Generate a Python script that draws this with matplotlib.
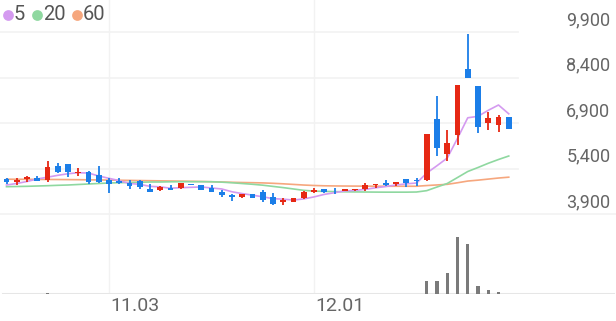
import matplotlib
matplotlib.use("Agg")
import matplotlib.pyplot as plt
import numpy as np
import pandas as pd

# ---------------- data ----------------
opens = [5050, 4955, 5044, 5097, 5021, 5483, 5539, 5242, 5295, 5186,
         5021, 4978, 4912, 4998, 4724, 4691, 4757, 4757, 4885, 4856,
         4767, 4615, 4526, 4451, 4550, 4615, 4470, 4286, 4306, 4428,
         4635, 4714, 4668, 4668, 4675, 4714, 4846, 4932, 4889, 5044,
         5021, 5021, 7022, 5878, 6505, 8671, 8130, 6890, 6834, 7108]
highs = [5080, 5087, 5150, 5150, 5657, 5591, 5550, 5426, 5318, 5483,
         5077, 5097, 5021, 5021, 4889, 4823, 4856, 4922, 4900, 4870,
         4856, 4691, 4543, 4575, 4559, 4691, 4592, 4428, 4440, 4658,
         4757, 4720, 4757, 4730, 4720, 4922, 4889, 5021, 4970, 5050,
         5087, 6538, 7790, 6669, 8153, 9835, 8130, 7273, 7164, 7108]
lows = [4900, 4840, 4970, 4990, 4965, 5242, 5110, 5163, 4889, 4932,
        4602, 4879, 4724, 4724, 4625, 4658, 4675, 4740, 4840, 4675,
        4625, 4460, 4329, 4428, 4428, 4296, 4197, 4197, 4290, 4411,
        4592, 4592, 4559, 4660, 4668, 4658, 4757, 4823, 4823, 4790,
        4823, 5000, 5812, 5657, 6175, 8374, 6561, 6669, 6613, 6702]
closes = [4970, 5021, 5130, 4998, 5450, 5275, 5285, 5295, 4945, 4965,
          4889, 4912, 4823, 4800, 4635, 4800, 4691, 4912, 4860, 4691,
          4635, 4526, 4451, 4559, 4438, 4362, 4220, 4362, 4418, 4625,
          4691, 4635, 4642, 4714, 4714, 4856, 4889, 4856, 4965, 4912,
          4980, 6538, 6066, 6231, 8153, 8374, 6778, 7055, 7108, 6702]
ma5_lead = [4856, 4906, 4972, 5054]
ma20 = [4800, 4807, 4813, 4823, 4833, 4846, 4856, 4873, 4889, 4906,
        4922, 4932, 4939, 4945, 4955, 4955, 4962, 4965, 4965, 4965,
        4962, 4950, 4930, 4905, 4880, 4850, 4810, 4770, 4725, 4680,
        4655, 4645, 4638, 4632, 4628, 4625, 4622, 4620, 4620, 4620,
        4625, 4670, 4790, 4906, 5103, 5301, 5433, 5572, 5697, 5812]
ma60 = [5047, 5045, 5043, 5041, 5039, 5037, 5034, 5031, 5027, 5023,
        5018, 5013, 5008, 5003, 4998, 4993, 4988, 4983, 4978, 4972,
        4965, 4955, 4945, 4938, 4932, 4925, 4912, 4895, 4875, 4855,
        4840, 4830, 4825, 4822, 4820, 4818, 4816, 4815, 4815, 4815,
        4815, 4838, 4858, 4878, 4930, 4986, 5016, 5051, 5086, 5114]
volumes = [8000, 7000, 8000, 7000, 65000, 9000, 7000, 6000, 6000, 7000,
           6000, 6000, 6000, 6000, 6000, 6000, 6000, 5000, 5000, 5000,
           5000, 5000, 5000, 5000, 5000, 5000, 5000, 5000, 5000, 5000,
           5000, 5000, 5000, 5000, 5000, 6000, 6000, 6000, 6000, 6000,
           6000, 650000, 635000, 1075000, 2875000, 2500000, 415000, 215000, 85000, 10000]
price_ticks = [3900, 5400, 6900, 8400, 9900]
date_labels = ["11.03", "12.01"]
date_pos = [10, 30]
legend_labels = ["5", "20", "60"]

# ---------------- styling ----------------
RED = "#e62814"
BLUE = "#1b7ee8"
C_MA5 = "#d49af0"
C_MA20 = "#8fd8a0"
C_MA60 = "#f6a77e"
GRID = "#f2f2f2"
TXT = "#666666"
plt.rcParams['font.family'] = ['Roboto', 'DejaVu Sans']

W, H = 616, 321
fig = plt.figure(figsize=(W / 100, H / 100), dpi=100)

n = len(closes)
x = np.arange(n)
px_per = 10.25
x0 = 6.5
xlim = (-x0 / px_per, (W - x0) / px_per)

# price axes: pixel rows 0..221
ax = fig.add_axes([0, (H - 221) / H, 1, 221 / H])
ax.set_xlim(*xlim)
ppx = 32.97
ax.set_ylim(3900 - 7 * ppx, 3900 + 214 * ppx)
ax.axis('off')

for i, p in enumerate(price_ticks):
    ax.axhline(p, xmin=0, xmax=(1.0 if i == 0 else 518 / W), color=GRID, lw=1.2, zorder=0)
    ax.annotate(f"{p:,}", xy=(1, p), xycoords=('axes fraction', 'data'),
                xytext=(-4, 5), textcoords='offset points', ha='right', va='baseline',
                fontsize=13, color=TXT)

for dp in date_pos:
    ax.axvline(dp, color=GRID, lw=1, zorder=0)

# moving averages
ma5 = pd.Series(closes, dtype=float).rolling(5).mean().to_numpy()
ma5[:len(ma5_lead)] = ma5_lead
ax.plot(x, ma60, color=C_MA60, lw=1.2, zorder=2)
ax.plot(x, ma20, color=C_MA20, lw=1.2, zorder=2)
ax.plot(x, ma5, color=C_MA5, lw=1.2, zorder=2)

# candles
o = np.array(opens, float); c = np.array(closes, float)
hi = np.array(highs, float); lo = np.array(lows, float)
up = c >= o
cols = np.where(up, RED, BLUE)
ax.vlines(x, lo, hi, colors=cols, lw=1.3, zorder=3)
body_h = np.maximum(np.abs(c - o), 28)
ax.bar(x, body_h, bottom=np.minimum(o, c), width=0.58, color=cols, zorder=4, linewidth=0)

# volume axes: pixel rows 221..294
vax = fig.add_axes([0, (H - 294) / H, 1, 73 / H])
vax.set_xlim(*xlim)
vax.set_ylim(0, 73 * 50000)
vax.axis('off')
vax.bar(x, volumes, width=0.34, color="#7a7a7a", zorder=2, linewidth=0)
vax.axhline(0, xmin=3 / W, xmax=613 / W, color="#e6e6e6", lw=2.2, zorder=1)
for dp in date_pos:
    vax.axvline(dp, color=GRID, lw=1, zorder=0)

# x labels
for dp, lab in zip(date_pos, date_labels):
    vax.annotate(lab, xy=(dp, 0), xycoords='data', xytext=(1, -12.5), textcoords='offset points',
                 ha='left', va='baseline', fontsize=14, color=TXT)

# legend
ov = fig.add_axes([0, 0, 1, 1], facecolor='none')
ov.set_xlim(0, W); ov.set_ylim(H, 0); ov.axis('off')
lx = [8, 37, 77]
for xx, lab, col in zip(lx, legend_labels, [C_MA5, C_MA20, C_MA60]):
    ov.scatter([xx], [15], s=60, color=col, linewidths=0)
    ov.text(xx + 6, 15, lab, ha='left', va='center', fontsize=14.5, color="#555555")

fig.savefig("out.png", dpi=100)
